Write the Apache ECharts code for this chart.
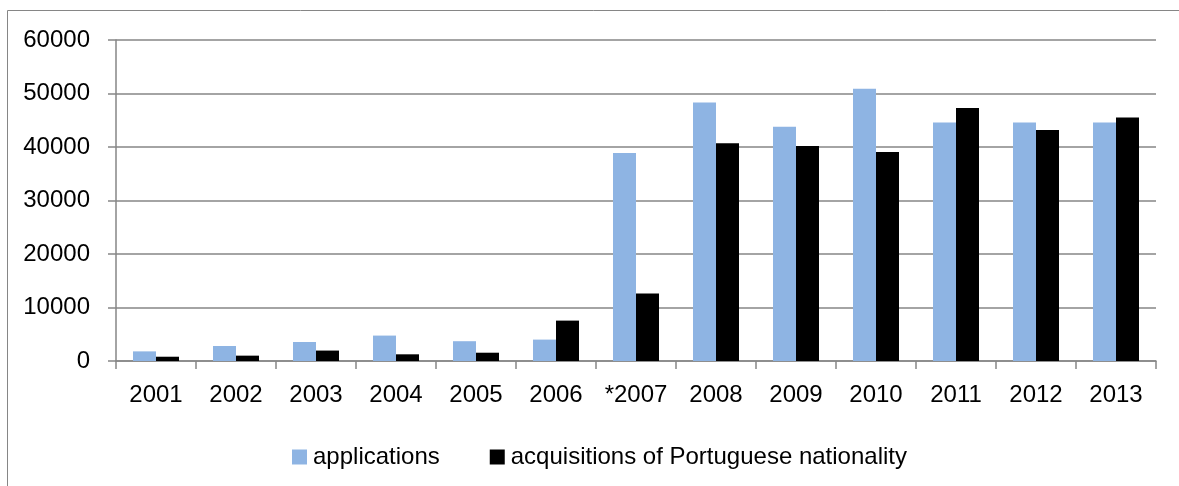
<!DOCTYPE html>
<html>
<head>
<meta charset="utf-8">
<script src="https://cdn.jsdelivr.net/npm/echarts@6/dist/echarts.min.js"></script>
<style>html,body{margin:0;padding:0;background:#fff;}#c{width:1179px;height:486px;}</style>
</head>
<body>
<div id="c"></div>
<script>
const categories = ['2001','2002','2003','2004','2005','2006','*2007','2008','2009','2010','2011','2012','2013'];
const applications = [1800, 2800, 3550, 4750, 3700, 4000, 38900, 48300, 43800, 50900, 44600, 44600, 44600];
const acquisitions = [800, 1000, 1950, 1250, 1550, 7550, 12600, 40700, 40200, 39050, 47300, 43200, 45500];
const seriesNames = ['applications', 'acquisitions of Portuguese nationality'];
const yTicks = { min: 0, max: 60000, interval: 10000 };

const FONT = 'Liberation Sans';
const chart = echarts.init(document.getElementById('c'), null, { renderer: 'canvas' });
chart.setOption({
  animation: false,
  backgroundColor: '#fff',
  textStyle: { fontFamily: FONT },
  graphic: [{
    type: 'rect',
    shape: { x: 7.5, y: 10.5, width: 1250, height: 550 },
    style: { fill: 'none', stroke: '#868686', lineWidth: 1 },
    silent: true
  }],
  grid: { left: 116, right: 23, top: 40, bottom: 125, containLabel: false },
  legend: {
    left: 287,
    top: 440,
    icon: 'rect',
    itemWidth: 15,
    itemHeight: 15,
    itemGap: 50,
    textStyle: { fontFamily: FONT, fontSize: 24, color: '#000', padding: [0, 0, 0, 1] },
    data: seriesNames
  },
  xAxis: {
    type: 'category',
    data: categories,
    axisLine: { lineStyle: { color: '#868686', width: 1.5 } },
    axisTick: { show: true, length: 8, lineStyle: { color: '#868686', width: 1.5 } },
    axisLabel: { fontFamily: FONT, fontSize: 24, color: '#000', margin: 22, interval: 0 }
  },
  yAxis: {
    type: 'value',
    min: yTicks.min,
    max: yTicks.max,
    interval: yTicks.interval,
    axisLine: { show: true, lineStyle: { color: '#868686', width: 1.5 } },
    axisTick: { show: true, length: 8, lineStyle: { color: '#868686', width: 1.5 } },
    splitLine: { show: true, lineStyle: { color: '#868686', width: 1.5 } },
    axisLabel: { fontFamily: FONT, fontSize: 24, color: '#000', margin: 26,
      formatter: function (v) { return String(v); } }
  },
  series: [
    { name: seriesNames[0], type: 'bar', data: applications, barWidth: 23, barGap: '0%',
      itemStyle: { color: '#8eb4e3' } },
    { name: seriesNames[1], type: 'bar', data: acquisitions, barWidth: 23, barGap: '0%',
      itemStyle: { color: '#000000' } }
  ]
});
</script>
</body>
</html>
